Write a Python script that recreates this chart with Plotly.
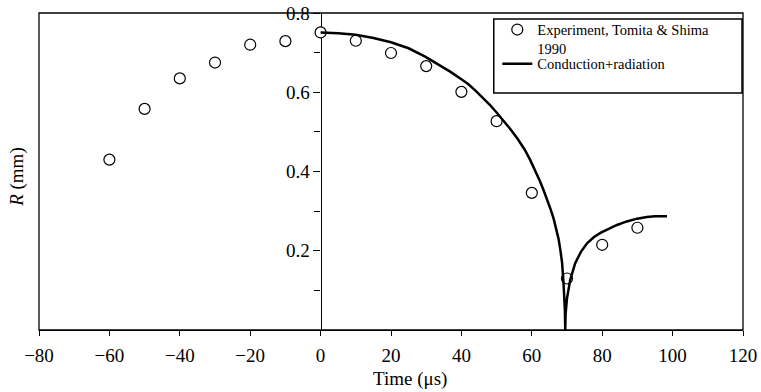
import plotly.graph_objects as go

# Experimental data (Tomita & Shima 1990)
t_exp = [-60, -50, -40, -30, -20, -10, 0, 10, 20, 30, 40, 50, 60, 70, 80, 90]
R_exp = [0.430, 0.558, 0.635, 0.675, 0.720, 0.729, 0.751, 0.730, 0.699, 0.666,
         0.601, 0.527, 0.346, 0.130, 0.215, 0.258]

# Model curve (conduction + radiation)
t_model = [0, 5, 10, 15, 20, 22.6, 25, 29.7, 33, 36.8, 40, 42, 44, 46, 48, 50,
           52, 54, 56, 58, 59.5, 61, 62.2, 63.3, 64.5, 65.4, 66.2, 67, 67.6,
           68.1, 68.6, 69.0, 69.25, 69.4, 69.5,
           69.6, 70.0, 70.9, 72.3, 74, 75.7, 77.6, 79.5, 82, 84.2, 87, 89.9,
           92.7, 95, 98.4]
R_model = [0.751, 0.749, 0.745, 0.737, 0.726, 0.719, 0.711, 0.690, 0.673, 0.652,
           0.633, 0.620, 0.604, 0.587, 0.569, 0.549, 0.528, 0.506, 0.482, 0.455,
           0.430, 0.402, 0.378, 0.354, 0.326, 0.303, 0.281, 0.255, 0.230,
           0.203, 0.170, 0.120, 0.080, 0.050, 0.0,
           0.040, 0.080, 0.126, 0.168, 0.198, 0.219, 0.234, 0.245, 0.256, 0.265,
           0.274, 0.281, 0.285, 0.287, 0.287]

x_ticks = [-80, -60, -40, -20, 0, 20, 40, 60, 80, 100, 120]
y_ticks = [0.2, 0.4, 0.6, 0.8]
y_minor = [0.1, 0.3, 0.5, 0.7]

FONT = "Liberation Serif"

fig = go.Figure()
fig.add_trace(go.Scatter(
    x=t_exp, y=R_exp, mode="markers",
    name="Experiment, Tomita & Shima<br>1990",
    marker=dict(symbol="circle", size=11, color="white",
                line=dict(color="black", width=1.2)),
    cliponaxis=False, legend="legend",
))
fig.add_trace(go.Scatter(
    x=t_model, y=R_model, mode="lines", name="Conduction+radiation",
    line=dict(color="black", width=2.5), legend="legend2",
))

legend_common = dict(xanchor="left", yanchor="top", bgcolor="rgba(0,0,0,0)",
                     borderwidth=0, font=dict(family=FONT, size=14.5),
                     valign="top", tracegroupgap=0)

fig.update_layout(
    width=761, height=392,
    margin=dict(l=39, r=18, t=13, b=62),
    paper_bgcolor="white", plot_bgcolor="white",
    font=dict(family=FONT, color="black", size=19),
    xaxis=dict(range=[-80, 120], tickvals=x_ticks, ticks="outside", ticklen=5,
               tickcolor="black", showgrid=False, zeroline=False,
               showline=True, linecolor="black", linewidth=1.3,
               automargin=False,
               tickfont=dict(family=FONT, size=19), ticklabelstandoff=3),
    yaxis=dict(range=[0, 0.8], tickvals=y_ticks, ticks="outside", ticklen=7,
               tickcolor="black", showgrid=False, zeroline=False,
               showline=True, linecolor="black", linewidth=1.3,
               anchor="free", position=0.4, layer="below traces",
               automargin=False,
               tickfont=dict(family=FONT, size=19),
               minor=dict(tickvals=y_minor, ticks="outside", ticklen=6,
                          tickcolor="black", showgrid=False)),
    showlegend=True,
    legend=dict(x=0.651, y=0.998, **legend_common),
    legend2=dict(x=0.651, y=0.890, **legend_common),
    shapes=[
        dict(type="rect", xref="paper", yref="paper", x0=0, x1=1, y0=0, y1=1,
             line=dict(color="black", width=1.3), layer="below"),
        dict(type="rect", xref="paper", yref="paper", x0=0.646, x1=0.9986,
             y0=0.748, y1=0.981, line=dict(color="black", width=1.5)),
    ],
    annotations=[
        dict(text="Time (μs)", xref="paper", yref="paper", x=0.527, y=-0.155,
             xanchor="center", yanchor="middle", showarrow=False,
             font=dict(family=FONT, size=19)),
        dict(text="<i>R</i> (mm)", xref="paper", yref="paper", x=-0.0313,
             y=0.483, xanchor="center", yanchor="middle", textangle=-90,
             showarrow=False, font=dict(family=FONT, size=19)),
    ],
)

fig.write_html(
    "out.html",
    config={"displayModeBar": False},
    post_script="document.body.style.margin='0';document.body.style.padding='0';document.body.style.overflow='hidden';",
)
